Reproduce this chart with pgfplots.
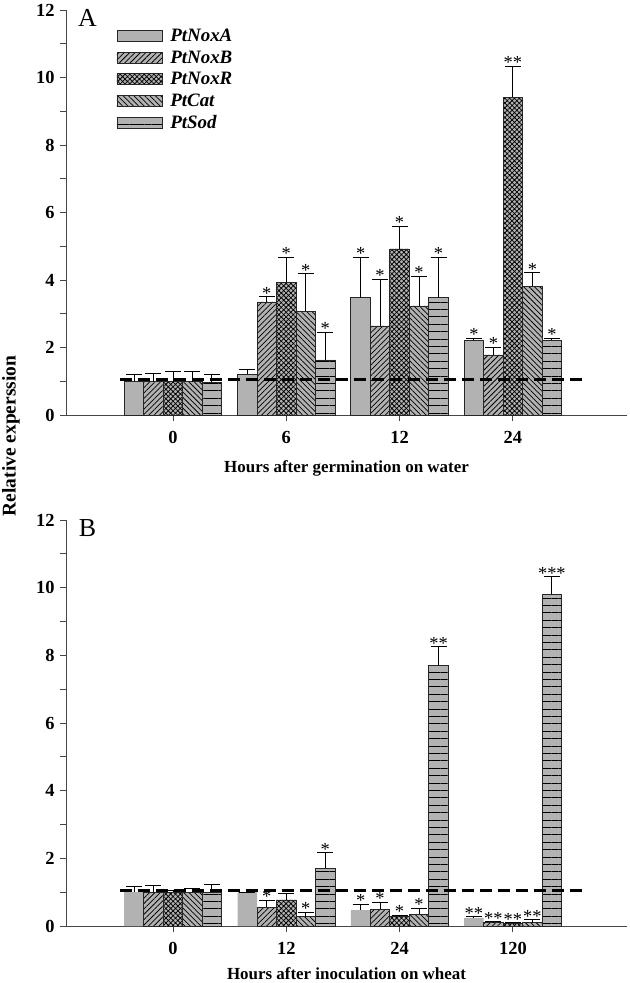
\documentclass[border=0pt]{standalone}
\usepackage{fontspec}
\setmainfont{Liberation Serif}
\usepackage{pgfplots}
\usepackage{pgfplotstable}
\pgfplotsset{compat=1.18}
\usetikzlibrary{patterns,patterns.meta}
\definecolor{barg}{RGB}{178,178,178}
\definecolor{axg}{RGB}{70,70,70}

% Panel A data: x, value, error, stars
\pgfplotstableread{
x y e s
0 1.00 0.21 {}
1 1.21 0.15 {}
2 3.47 1.21 *
3 2.22 0.06 *
}\AnoxA
\pgfplotstableread{
x y e s
0 0.99 0.24 {}
1 3.35 0.15 *
2 2.64 1.39 *
3 1.78 0.23 *
}\AnoxB
\pgfplotstableread{
x y e s
0 0.99 0.30 {}
1 3.94 0.74 *
2 4.92 0.68 *
3 9.42 0.92 **
}\AnoxR
\pgfplotstableread{
x y e s
0 0.99 0.30 {}
1 3.08 1.10 *
2 3.23 0.89 *
3 3.82 0.39 *
}\Acat
\pgfplotstableread{
x y e s
0 0.97 0.23 {}
1 1.63 0.83 *
2 3.47 1.21 *
3 2.22 0.06 *
}\Asod

% Panel B data
\pgfplotstableread{
x y e s
0 1.00 0.18 {}
1 1.00 0.00 {}
2 0.47 0.18 *
3 0.24 0.03 **
}\BnoxA
\pgfplotstableread{
x y e s
0 1.00 0.21 {}
1 0.56 0.21 *
2 0.50 0.21 *
3 0.10 0.03 **
}\BnoxB
\pgfplotstableread{
x y e s
0 1.00 0.06 {}
1 0.77 0.18 {}
2 0.27 0.05 *
3 0.08 0.03 **
}\BnoxR
\pgfplotstableread{
x y e s
0 1.00 0.10 {}
1 0.27 0.14 *
2 0.35 0.18 *
3 0.10 0.10 **
}\Bcat
\pgfplotstableread{
x y e s
0 1.00 0.24 {}
1 1.71 0.45 *
2 7.69 0.56 **
3 9.81 0.51 ***
}\Bsod

\pgfplotsset{
  panel/.style={
    scale only axis, width=561bp,
    xmin=-0.944, xmax=4.007, ymin=0, ymax=12,
    axis x line=bottom, axis y line=left,
    axis line style={-, axg, line width=0.9bp},
    tick align=outside,
    major tick length=6bp, minor tick length=6bp,
    tick style={axg, line width=0.9bp},
    ytick={0,2,...,12}, minor y tick num=1,
    xtick={0,1,2,3},
    /pgf/number format/assume math mode=true,
    ticklabel style={font=\bfseries\fontsize{18.5}{20}\selectfont},
    yticklabel style={xshift=-2bp},
    xticklabel style={yshift=-7bp},
    label style={font=\bfseries\fontsize{17}{20}\selectfont},
    clip=false,
  },
  bar/.style={ybar, bar width=0.172, draw=black!85, line width=0.8bp, fill=barg},
  patB/.style={postaction={pattern={Lines[angle=45, distance=3.8bp, line width=0.75bp]}}},
  patR/.style={postaction={pattern={Hatch[angle=45, distance=3.4bp, line width=0.75bp]}}},
  patC/.style={postaction={pattern={Lines[angle=-45, distance=3.8bp, line width=0.75bp]}}},
  patS/.style={postaction={pattern={Lines[angle=0, distance=7.4bp, line width=1bp]}}},
  errs/.style={forget plot, draw=none, mark=none,
    error bars/y dir=plus, error bars/y explicit,
    error bars/error bar style={draw=black, line width=0.9bp},
    error bars/error mark options={draw=black, rotate=90, mark size=8bp, line width=0.9bp}},
  stars/.style={forget plot, draw=none, mark=none, nodes near coords,
    point meta=explicit symbolic,
    every node near coord/.append style={font=\fontsize{18.5}{18.5}\selectfont, anchor=south, inner sep=0bp, yshift=-3bp}},
}

\begin{document}
\begin{tikzpicture}
\path[use as bounding box] (-66bp,-568bp) rectangle (564bp,415bp);

% ---------------- Panel A ----------------
\begin{axis}[panel, height=405bp, at={(0,0)}, anchor=south west,
  xticklabels={0,6,12,24},
  xlabel={Hours after germination on water},
  xlabel style={yshift=-10bp},
  legend style={at={(axis cs:-0.50,11.5)}, anchor=north west, draw=none, fill=none,
    font=\bfseries\itshape\fontsize{19}{19}\selectfont, row sep=3.6bp,
    inner sep=0pt, nodes={inner ysep=2bp, inner xsep=3bp},
    /tikz/every odd column/.append style={column sep=5bp}},
  legend cell align=left,
  legend image code/.code={\draw[#1] (0bp,-5.5bp) rectangle (45bp,5.5bp);},
]
\addplot[bar, bar shift=-0.344] table[x=x, y=y] {\AnoxA};
\addlegendentry{PtNoxA}
\addplot[bar, bar shift=-0.172, patB] table[x=x, y=y] {\AnoxB};
\addlegendentry{PtNoxB}
\addplot[bar, bar shift=0, patR] table[x=x, y=y] {\AnoxR};
\addlegendentry{PtNoxR}
\addplot[bar, bar shift=0.172, patC] table[x=x, y=y] {\Acat};
\addlegendentry{PtCat}
\addplot[bar, bar shift=0.344, patS] table[x=x, y=y] {\Asod};
\addlegendentry{PtSod}

\addplot[errs] table[x expr=\thisrow{x}-0.344, y=y, y error=e] {\AnoxA};
\addplot[errs] table[x expr=\thisrow{x}-0.172, y=y, y error=e] {\AnoxB};
\addplot[errs] table[x expr=\thisrow{x}, y=y, y error=e] {\AnoxR};
\addplot[errs] table[x expr=\thisrow{x}+0.172, y=y, y error=e] {\Acat};
\addplot[errs] table[x expr=\thisrow{x}+0.344, y=y, y error=e] {\Asod};

\addplot[stars] table[x expr=\thisrow{x}-0.344, y expr=\thisrow{y}+\thisrow{e}, meta=s] {\AnoxA};
\addplot[stars] table[x expr=\thisrow{x}-0.172, y expr=\thisrow{y}+\thisrow{e}, meta=s] {\AnoxB};
\addplot[stars] table[x expr=\thisrow{x}, y expr=\thisrow{y}+\thisrow{e}, meta=s] {\AnoxR};
\addplot[stars] table[x expr=\thisrow{x}+0.172, y expr=\thisrow{y}+\thisrow{e}, meta=s] {\Acat};
\addplot[stars] table[x expr=\thisrow{x}+0.344, y expr=\thisrow{y}+\thisrow{e}, meta=s] {\Asod};

\addplot[forget plot, black, line width=3bp, dash pattern=on 12bp off 6bp] coordinates {(-0.47,1.05) (3.64,1.05)};
\node[font=\fontsize{26}{26}\selectfont, anchor=center] at (axis cs:-0.755,11.75) {A};
\end{axis}

% ---------------- Panel B ----------------
\begin{axis}[panel, height=406bp, at={(0,-105bp)}, anchor=north west,
  xticklabels={0,12,24,120},
  xlabel={Hours after inoculation on wheat},
  xlabel style={yshift=-6bp},
]
\addplot[bar, bar shift=-0.344, draw=none] table[x=x, y=y] {\BnoxA};
\addplot[bar, bar shift=-0.172, patB] table[x=x, y=y] {\BnoxB};
\addplot[bar, bar shift=0, patR] table[x=x, y=y] {\BnoxR};
\addplot[bar, bar shift=0.172, patC] table[x=x, y=y] {\Bcat};
\addplot[bar, bar shift=0.344, patS] table[x=x, y=y] {\Bsod};

\addplot[errs] table[x expr=\thisrow{x}-0.344, y=y, y error=e] {\BnoxA};
\addplot[errs] table[x expr=\thisrow{x}-0.172, y=y, y error=e] {\BnoxB};
\addplot[errs] table[x expr=\thisrow{x}, y=y, y error=e] {\BnoxR};
\addplot[errs] table[x expr=\thisrow{x}+0.172, y=y, y error=e] {\Bcat};
\addplot[errs] table[x expr=\thisrow{x}+0.344, y=y, y error=e] {\Bsod};

\addplot[stars] table[x expr=\thisrow{x}-0.344, y expr=\thisrow{y}+\thisrow{e}, meta=s] {\BnoxA};
\addplot[stars] table[x expr=\thisrow{x}-0.172, y expr=\thisrow{y}+\thisrow{e}, meta=s] {\BnoxB};
\addplot[stars] table[x expr=\thisrow{x}, y expr=\thisrow{y}+\thisrow{e}, meta=s] {\BnoxR};
\addplot[stars] table[x expr=\thisrow{x}+0.172, y expr=\thisrow{y}+\thisrow{e}, meta=s] {\Bcat};
\addplot[stars] table[x expr=\thisrow{x}+0.344, y expr=\thisrow{y}+\thisrow{e}, meta=s] {\Bsod};

\addplot[forget plot, black, line width=3bp, dash pattern=on 12bp off 6bp] coordinates {(-0.47,1.06) (3.64,1.06)};
\node[font=\fontsize{26}{26}\selectfont, anchor=center] at (axis cs:-0.755,11.75) {B};
\end{axis}

\node[rotate=90, font=\bfseries\fontsize{19.5}{22}\selectfont] at (-55bp,-21bp) {Relative experssion};
\end{tikzpicture}
\end{document}
